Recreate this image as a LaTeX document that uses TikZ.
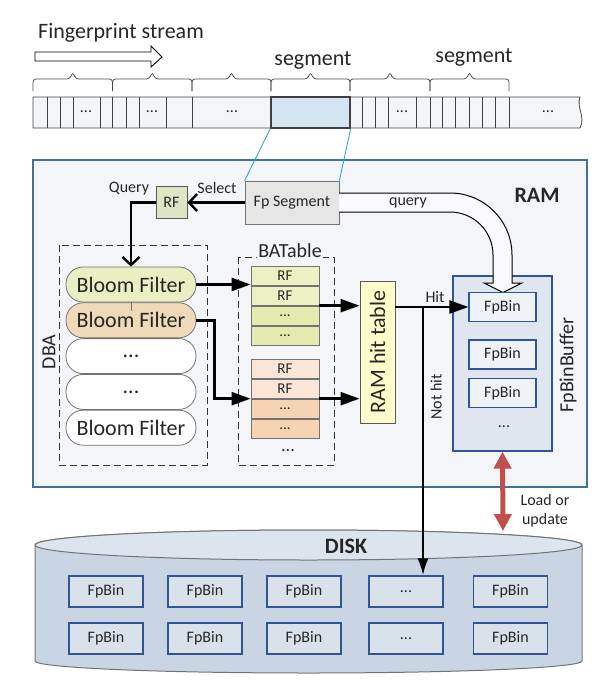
\documentclass[tikz,border=0pt]{standalone}
\usepackage{fontspec}
\setmainfont{Carlito}
\usetikzlibrary{arrows.meta,calc,positioning}
\definecolor{ramfill}{HTML}{F3F5F8}
\definecolor{ramline}{HTML}{41719C}
\definecolor{cellfill}{HTML}{F4F5F6}
\definecolor{segfill}{HTML}{D3E5F1}
\definecolor{linkblue}{HTML}{2DA8DF}
\definecolor{fpgray}{HTML}{E6E6E6}
\definecolor{rfgreen}{HTML}{DCE6C4}
\definecolor{bfgreen}{HTML}{EAEFC3}
\definecolor{bftan}{HTML}{EFD9B8}
\definecolor{rowgreenlt}{HTML}{ECF0C2}
\definecolor{rowgreen}{HTML}{E4EAAE}
\definecolor{rowpeach}{HTML}{FBE5D6}
\definecolor{rowtan}{HTML}{F5D3B3}
\definecolor{hitfill}{HTML}{FFFCCB}
\definecolor{buffill}{HTML}{DFE6EF}
\definecolor{binline}{HTML}{2F5597}
\definecolor{diskfill}{HTML}{C9D5E3}
\definecolor{disklid}{HTML}{DCE4EE}
\definecolor{loadred}{HTML}{C0504D}
\newcommand{\ellip}{...}
\begin{document}
\begin{tikzpicture}[x=1pt, y=1pt,
    every node/.style={font=\fontsize{16}{19}\selectfont, text=black!85},
    big/.style={font=\fontsize{22}{26}\selectfont},
    mid/.style={font=\fontsize{20}{24}\selectfont},
    cell/.style={draw=black!75, line width=0.8pt},
    brace/.style={draw=black!70, line width=0.8pt, rounded corners=3pt},
    box/.style={draw=black!55, line width=0.8pt, inner sep=0pt},
    bloom/.style={box, rounded corners=17pt, minimum width=130pt, minimum height=35pt, big},
    row/.style={box, minimum width=68pt, minimum height=19.25pt, font=\fontsize{15}{18}\selectfont},
    bin/.style={draw=binline, line width=1.2pt, minimum width=67pt, minimum height=29pt, inner sep=0pt},
    arr/.style={line width=2.4pt, -{Triangle[length=19pt,width=13pt]}},
    barb/.style={line width=2.4pt, -{Straight Barb[length=8pt,width=17pt]}},
    dashbox/.style={draw=black!80, line width=1pt, dash pattern=on 7pt off 4pt}]
  \useasboundingbox (0,0) rectangle (612,-691);
  % Flusso di fingerprint
  \node[big] (title) at (121,-33) {Fingerprint stream};
  \draw[line width=0.9pt, fill=white] (35,-52) -- (151,-52) -- (151,-46) -- (162,-57)
    -- (151,-67) -- (151,-61) -- (35,-61) -- cycle;
  % Graffe dei segmenti
  \foreach \a/\b in {33/112.5,112.5/192,192/271,271/350,350/430,430/509}{
    \pgfmathsetmacro\m{(\a+\b)/2}
    \draw[brace] (\a,-91) -- (\a,-79) -- (\m-3,-79) -- (\m,-72) -- (\m+3,-79) -- (\b,-79) -- (\b,-91);
  }
  \node[big] (seglblA) at (313,-60) {segment};
  \node[big] (seglblB) at (474,-57) {segment};
  % Barra delle fingerprint
  \draw[cell, fill=cellfill] (33,-97) -- (580,-97) .. controls (576,-107) and (586,-117) .. (580,-128)
    -- (33,-128) -- cycle;
  \foreach \x in {47,60,73,100,112.5,126,139,166,192,362,375,388,416,430,442,455,469,482,495,509}
    \draw[cell] (\x,-97) -- (\x,-128);
  \node[cell, fill=segfill, line width=1.3pt, minimum width=79pt, minimum height=31pt, inner sep=0pt]
    (seg) at (310.5,-112.5) {};
  \foreach \x in {86,152,232,402,548}
    \node (dot\x) at (\x,-112) {\ellip};
  % RAM
  \draw[draw=ramline, line width=1.2pt, fill=ramfill] (33,-160) rectangle (587,-487);
  \node[font=\bfseries\fontsize{22}{26}\selectfont] (ramlbl) at (537,-195) {RAM};
  % Segmento e RF
  \node[box, fill=fpgray, minimum width=94pt, minimum height=43pt] (fpseg) at (292,-202.5) {Fp Segment};
  \node[box, draw=black!65, fill=rfgreen, minimum width=31pt, minimum height=32pt] (rf) at (171.5,-202.5) {RF};
  \draw[linkblue, line width=0.9pt] (seg.south west) -- (fpseg.north west);
  \draw[linkblue, line width=0.9pt] (seg.south east) -- (fpseg.north east);
  \node (selectlbl) at (217,-188) {Select};
  \node (querylbl) at (129,-189) {Query};
  % DBA
  \draw[dashbox] (59,-245) rectangle (207,-465);
  \node[rotate=90, mid] (dbalbl) at (49,-352) {DBA};
  \node[bloom, fill=bfgreen] (bf1) at (131,-284.5) {Bloom Filter};
  \node[bloom, fill=bftan, below=0pt of bf1] (bf2) {Bloom Filter};
  \node[bloom, fill=white, below=0pt of bf2] (bf3) {\ellip};
  \node[bloom, fill=white, below=0pt of bf3] (bf4) {\ellip};
  \node[bloom, fill=white, below=0pt of bf4] (bf5) {Bloom Filter};
  \draw[draw=black!55, line width=0.8pt] (bf1.south) -- ++(0,-9);
  \draw[barb] (fpseg.west) -- (rf.east);
  \draw[barb] (rf.west) -| (bf1.north);
  % BATable
  \draw[dashbox] (238,-257) rectangle (334,-465);
  \node[fill=ramfill, inner sep=1pt, anchor=south, mid] (batlbl) at (290,-259) {BATable};
  \node[row, fill=rowgreenlt] (g1) at (285,-275.6) {RF};
  \node[row, fill=rowgreenlt, below=0pt of g1] (g2) {RF};
  \node[row, fill=rowgreen, below=0pt of g2] (g3) {\ellip};
  \node[row, fill=rowgreen, below=0pt of g3] (g4) {\ellip};
  \node[row, fill=rowpeach] (o1) at (285,-368.6) {RF};
  \node[row, fill=rowpeach, below=0pt of o1] (o2) {RF};
  \node[row, fill=rowtan, below=0pt of o2] (o3) {\ellip};
  \node[row, fill=rowtan, below=0pt of o3] (o4) {\ellip};
  \node[font=\fontsize{18}{20}\selectfont] (batdots) at (288,-451) {\ellip};
  \draw[arr] (bf1.east) -- (bf1.east -| g1.west);
  \draw[arr] (bf2.east) -- ++(18,0) |- (o2.south west);
  % Tabella dei hit in RAM
  \node[box, draw=black!65, fill=hitfill, minimum width=35pt, minimum height=142pt] (hit) at (377.5,-352) {};
  \node[rotate=90, big] (hitlbl) at (hit) {RAM hit table};
  \draw[arr] (g2.south east) -- (g2.south east -| hit.west);
  \draw[arr] (o2.south east) -- (o2.south east -| hit.west);
  % FpBinBuffer
  \node[draw=binline, line width=1.2pt, fill=buffill, minimum width=99pt, minimum height=175pt] (buf) at (502.5,-363.5) {};
  \node[rotate=90, mid] (buflbl) at (568,-365) {FpBinBuffer};
  \draw[line width=1pt, fill=white!55!ramfill] (339,-193) -- (450,-193)
    arc[start angle=90, end angle=0, radius=62pt] -- (512,-283) -- (522,-283) -- (503,-292.5)
    -- (484,-283) -- (493,-283) -- (493,-255) arc[start angle=0, end angle=90, radius=43pt] -- (339,-212);
  \node (querylblB) at (408,-203) {query};
  \node[bin, fill=buffill!50!white] (fb1) at (502.5,-307) {FpBin};
  \node[bin, fill=buffill!50!white] (fb2) at (502.5,-354.5) {FpBin};
  \node[bin, fill=buffill!50!white] (fb3) at (502.5,-393) {FpBin};
  \node (bufdots) at (504,-427) {\ellip};
  % Disco
  \draw[draw=black!55, line width=1pt, fill=diskfill] (35,-545) -- (35,-661)
    arc[start angle=180, end angle=360, x radius=273.5pt, y radius=12pt] -- (582,-545)
    arc[start angle=0, end angle=180, x radius=273.5pt, y radius=15pt] -- cycle;
  \draw[draw=black!55, line width=1pt, fill=disklid] (308.5,-545) ellipse[x radius=273.5pt, y radius=15pt];
  \node[font=\bfseries\fontsize{22}{26}\selectfont] (disklbl) at (346,-546) {DISK};
  \foreach \c/\x/\t in {1/106/FpBin,2/205/FpBin,3/304/FpBin,4/406/\ellip,5/510.5/FpBin}{
    \node[bin, fill=diskfill!70!white, minimum width=74pt, minimum height=31pt] (dA\c) at (\x,-591.5) {\t};
    \node[bin, fill=diskfill!70!white, minimum width=74pt, minimum height=31pt] (dB\c) at (\x,-638.5) {\t};
  }
  % Hit e Not hit
  \coordinate (split) at (423,-307);
  \draw[arr] (hit.east |- fb1.west) -- (fb1.west);
  \node (hitlblB) at (435,-297) {Hit};
  \draw[line width=2.4pt, -{Latex[length=17pt,width=11pt]}] (split) -- (split |- dA4.north);
  \node[rotate=90] (nothitlbl) at (436,-397) {Not hit};
  % Caricamento o aggiornamento
  \coordinate (disktop) at (503,-531);
  \draw[loadred, line width=5pt, {Triangle[length=17pt,width=17pt]}-{Triangle[length=17pt,width=17pt]}] (buf.south) -- (disktop);
  \node[align=center] (loadlbl) at (545,-511) {Load or\\update};
\end{tikzpicture}
\end{document}
